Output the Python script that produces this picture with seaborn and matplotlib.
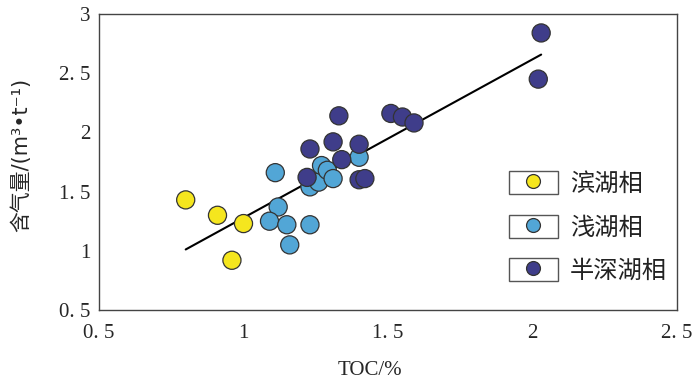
import numpy as np
import pandas as pd
import seaborn as sns
import matplotlib
matplotlib.use("Agg")
import matplotlib.pyplot as plt
from matplotlib.patches import Rectangle
from matplotlib.lines import Line2D
from matplotlib.legend_handler import HandlerTuple

# ---- data ----
facies_names = ["滨湖相", "浅湖相", "半深湖相"]
colors = ["#F5E61E", "#52A6D6", "#3F3D8A"]

toc_bin = [0.80, 0.91, 1.00, 0.96]
gas_bin = [1.43, 1.30, 1.23, 0.92]

toc_qian = [1.11, 1.12, 1.09, 1.15, 1.23, 1.16, 1.23, 1.26, 1.27, 1.29, 1.31, 1.40]
gas_qian = [1.66, 1.37, 1.25, 1.22, 1.22, 1.05, 1.54, 1.58, 1.72, 1.68, 1.61, 1.79]

toc_shen = [1.23, 1.33, 1.31, 1.34, 1.22, 1.40, 1.40, 1.42, 1.51, 1.55, 1.59, 2.03, 2.02]
gas_shen = [1.86, 2.14, 1.92, 1.77, 1.62, 1.90, 1.60, 1.61, 2.16, 2.13, 2.08, 2.84, 2.45]

xticks = [0.5, 1, 1.5, 2, 2.5]
yticks = [0.5, 1, 1.5, 2, 2.5, 3]
xtick_labels = ["0. 5", "1", "1. 5", "2", "2. 5"]
ytick_labels = ["0. 5", "1", "1. 5", "2", "2. 5", "3"]

df = pd.DataFrame({
    "TOC": toc_bin + toc_qian + toc_shen,
    "gas": gas_bin + gas_qian + gas_shen,
    "facies": [facies_names[0]] * len(toc_bin) + [facies_names[1]] * len(toc_qian)
              + [facies_names[2]] * len(toc_shen),
})

sns.set_style("white")
plt.rcParams['font.family'] = ['Noto Sans CJK SC', 'DejaVu Sans']

fig = plt.figure(figsize=(7.0, 3.81), dpi=100)
ax = fig.add_axes([99 / 700, 1 - 310 / 381, (677 - 99) / 700, (310 - 14) / 381])

sns.regplot(data=df, x="TOC", y="gas", scatter=False, ci=None, truncate=True,
            color="black", line_kws={"lw": 1.5}, ax=ax)
sns.scatterplot(data=df, x="TOC", y="gas", hue="facies", hue_order=facies_names,
                palette=colors, s=170, edgecolor="#333333", linewidth=0.9,
                legend=False, ax=ax, zorder=3)

ax.set_xlim(0.5, 2.5)
ax.set_ylim(0.5, 3)
ax.set_xticks(xticks)
ax.set_yticks(yticks)
ax.set_xticklabels(xtick_labels, family=['Liberation Serif'], fontsize=15)
ax.set_yticklabels(ytick_labels, family=['Liberation Serif'], fontsize=15)
ax.tick_params(axis="x", direction="in", length=5, width=1, color="#333333", pad=10)
ax.tick_params(axis="y", direction="in", length=5, width=1, color="#333333", pad=6)
for sp in ax.spines.values():
    sp.set_color("#444444")
    sp.set_linewidth(1.0)

ax.set_xlabel("TOC/%", family=['Liberation Serif'], fontsize=15)
ax.xaxis.set_label_coords((370 - 99) / 578, -(361 - 310) / 296)
ax.set_ylabel("含气量/(m³•t⁻¹)", family=['DejaVu Sans', 'Noto Sans CJK SC'],
              fontsize=15)
ax.yaxis.set_label_coords(-(99 - 31) / 578, (310 - 155) / 296)

handles = []
for c in colors:
    box = Rectangle((0, 0), 1, 1, facecolor="white", edgecolor="#555555", linewidth=1)
    mk = Line2D([], [], marker="o", ls="", markerfacecolor=c,
                markeredgecolor="#333333", markersize=10, markeredgewidth=0.9)
    handles.append((box, mk))
leg = ax.legend(handles, facies_names, handler_map={tuple: HandlerTuple(ndivide=1, pad=0)},
                loc="upper left", bbox_to_anchor=((509 - 99) / 578, (310 - 171) / 296),
                frameon=False, fontsize=17.5, handlelength=2.0, handleheight=1.1,
                handletextpad=0.5, labelspacing=0.72, borderaxespad=0, borderpad=0)
for t in leg.get_texts():
    t.set_color("#222222")

fig.savefig("out.png", dpi=100)
